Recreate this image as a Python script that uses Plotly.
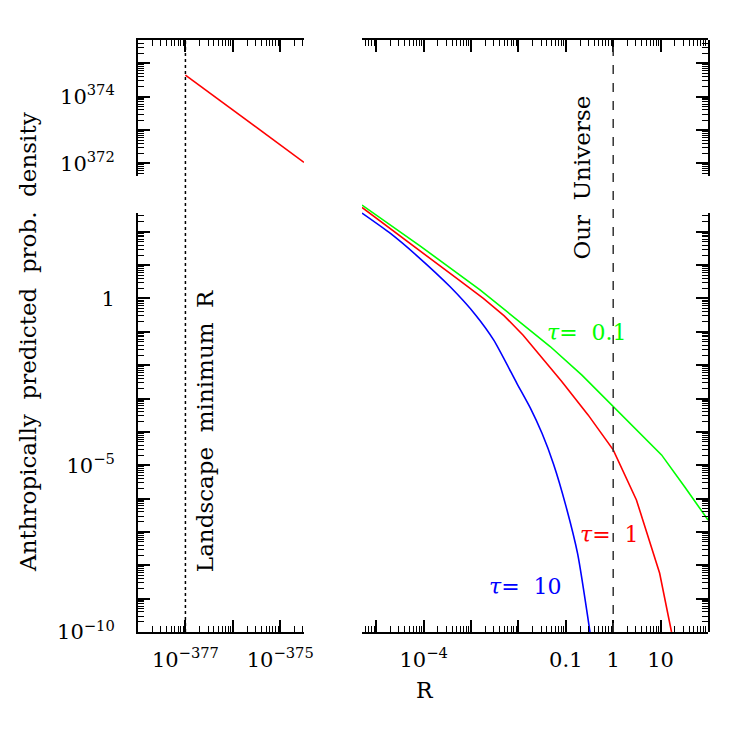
import plotly.graph_objects as go

# values are log10 of R and of the probability density (10^374 does not fit in a float)
left_log_r = [-377.0, -376.0, -375.0, -374.5]
left_log_p = [374.65, 373.6, 372.55, 372.03]

green_log_r = [-5.30, -4.07, -2.81, -2.00, -1.33, -0.66, 0.0, 0.50, 1.02, 1.51, 2.0]
green_log_p = [2.80, 1.57, 0.26, -0.66, -1.44, -2.30, -3.24, -3.96, -4.69, -5.65, -6.64]

red_log_r = [-5.30, -4.14, -3.30, -2.74, -2.30, -1.90, -1.54, -1.09, -0.53, 0.0, 0.49, 0.98, 1.23]
red_log_p = [2.73, 1.48, 0.60, 0.00, -0.52, -1.10, -1.70, -2.48, -3.49, -4.54, -6.04, -8.24, -10.0]

blue_log_r = [-5.30, -4.70, -4.14, -3.44, -2.90, -2.52, -2.03, -1.75, -1.50, -1.26, -1.00,
              -0.75, -0.49]
blue_log_p = [2.56, 1.95, 1.28, 0.35, -0.50, -1.25, -2.55, -3.28, -4.05, -4.96, -6.21,
              -7.66, -10.0]

landscape_min_log_r = -377
our_universe_log_r = 0

MINUS = "\u2212"
left_x_labels = {-377: "10<sup>" + MINUS + "377</sup>", -375: "10<sup>" + MINUS + "375</sup>"}
right_x_labels = {-4: "10<sup>" + MINUS + "4</sup>", -1: "0.1", 0: "1", 1: "10"}
low_y_labels = {0: "1", -5: "10<sup>" + MINUS + "5</sup>", -10: "10<sup>" + MINUS + "10</sup>"}
high_y_labels = {374: "10<sup>374</sup>", 372: "10<sup>372</sup>"}

FONT = "DejaVu Serif"

# layout of the broken axes (fractions of the plot area)
P_MIN, P_MAX = -10.0, 7.75          # continuous scale behind the lower segment
LOW_TOP = 0.7078                     # top of lower y segment
HIGH_BOT = 0.7703                    # bottom of upper y segment
HIGH_SHIFT = 367.95                  # upper segment exponent offset
span = P_MAX - P_MIN
low_range = [P_MIN, P_MIN + LOW_TOP * span]
high_range = [P_MIN + HIGH_BOT * span + HIGH_SHIFT, P_MAX + HIGH_SHIFT]


def log_ticks(lo, hi, labels):
    vals = list(range(lo, hi + 1))
    text = [labels.get(v, "") for v in vals]
    minor = [v + m for v in range(lo - 1, hi + 1) for m in
             [0.30103, 0.47712, 0.60206, 0.69897, 0.77815, 0.84510, 0.90309, 0.95424]]
    return vals, text, minor


axis_style = dict(showgrid=False, zeroline=False, showline=True, linecolor="black", linewidth=2,
                  ticks="inside", ticklen=12, tickwidth=1.5, tickcolor="black",
                  tickfont=dict(family=FONT, size=21, color="black"), ticklabelstandoff=8)


def x_axis(domain, rng, labels):
    vals, text, minor = log_ticks(int(rng[0]) - 1, int(rng[1]) + 1, labels)
    return dict(axis_style, domain=domain, range=rng, anchor="y", mirror="ticks",
                tickmode="array", tickvals=vals, ticktext=text,
                minor=dict(tickmode="array", tickvals=minor, ticks="inside", ticklen=6,
                           tickwidth=1.2, tickcolor="black"))


def y_axis(domain, rng, labels, anchor, side):
    vals, text, minor = log_ticks(int(rng[0]) - 1, int(rng[1]) + 1, labels)
    return dict(axis_style, domain=domain, range=rng, anchor=anchor, side=side,
                ticklabelstandoff=17,
                tickmode="array", tickvals=vals, ticktext=text,
                minor=dict(tickmode="array", tickvals=minor, ticks="inside", ticklen=6,
                           tickwidth=1.2, tickcolor="black"))


fig = go.Figure()
line_w = 1.6
fig.add_trace(go.Scatter(x=left_log_r, y=left_log_p, xaxis="x", yaxis="y3", mode="lines",
                         line=dict(color="#ff0000", width=line_w)))
fig.add_trace(go.Scatter(x=green_log_r, y=green_log_p, xaxis="x2", yaxis="y", mode="lines",
                         line=dict(color="#00ff00", width=line_w)))
fig.add_trace(go.Scatter(x=red_log_r, y=red_log_p, xaxis="x2", yaxis="y", mode="lines",
                         line=dict(color="#ff0000", width=line_w)))
fig.add_trace(go.Scatter(x=blue_log_r, y=blue_log_p, xaxis="x2", yaxis="y", mode="lines",
                         line=dict(color="#0000ff", width=line_w, shape="spline", smoothing=0.6)))
# empty traces so the decorative axis segments get drawn
for xa, ya in [("x", "y2"), ("x2", "y4"), ("x2", "y5")]:
    fig.add_trace(go.Scatter(x=[None], y=[None], xaxis=xa, yaxis=ya, mode="lines"))

fig.add_shape(type="line", xref="x", yref="paper", x0=landscape_min_log_r, x1=landscape_min_log_r,
              y0=0, y1=1, line=dict(color="black", width=1.5, dash="dot"))
fig.add_shape(type="line", xref="x2", yref="paper", x0=our_universe_log_r, x1=our_universe_log_r,
              y0=0, y1=1, line=dict(color="#333333", width=1.5, dash="dash"))

txt = dict(family=FONT, size=22, color="black")
ann = dict(showarrow=False, xanchor="center", yanchor="middle")
fig.add_annotation(text="Landscape  minimum  R", xref="x", yref="paper", x=landscape_min_log_r,
                   xshift=19, y=0.34, textangle=-90, font=dict(txt, size=23), **ann)
fig.add_annotation(text="Our  Universe", xref="x2", yref="paper", x=our_universe_log_r,
                   xshift=-31, y=0.768, textangle=-90, font=dict(txt, size=23), **ann)
fig.add_annotation(text="<i>\u03c4</i>=  0.1", xref="x2", yref="y", x=-0.55, y=-1.03,
                   font=dict(txt, color="#00ff00"), **ann)
fig.add_annotation(text="<i>\u03c4</i>=  1", xref="x2", yref="y", x=-0.07, y=-7.09,
                   font=dict(txt, color="#ff0000"), **ann)
fig.add_annotation(text="<i>\u03c4</i>=  10", xref="x2", yref="y", x=-1.86, y=-8.65,
                   font=dict(txt, color="#0000ff"), **ann)
fig.add_annotation(text="R", xref="paper", yref="paper", x=0.503, y=-0.098, font=txt, **ann)
fig.add_annotation(text="Anthropically  predicted  prob.  density", xref="paper", yref="paper",
                   x=-0.193, y=0.49, textangle=-90, font=dict(txt, size=23), **ann)

# page body has an 8px margin, so the figure is 8px smaller than the window
fig.update_layout(
    width=739, height=739,
    margin=dict(l=130, r=39, t=32, b=115),
    paper_bgcolor="white", plot_bgcolor="rgba(0,0,0,0)",
    showlegend=False,
    xaxis=x_axis([0, 0.2912], [-378.0, -374.5], left_x_labels),
    xaxis2=x_axis([0.393, 1], [-5.3, 2.0], right_x_labels),
    yaxis=dict(domain=[0, 1], range=[P_MIN, P_MAX], visible=False, anchor="x"),
    yaxis2=y_axis([0, LOW_TOP], low_range, low_y_labels, "x", "left"),
    yaxis3=y_axis([HIGH_BOT, 1], high_range, high_y_labels, "x", "left"),
    yaxis4=y_axis([0, LOW_TOP], low_range, {}, "x2", "right"),
    yaxis5=y_axis([HIGH_BOT, 1], high_range, {}, "x2", "right"),
)

fig.write_html("out.html")
